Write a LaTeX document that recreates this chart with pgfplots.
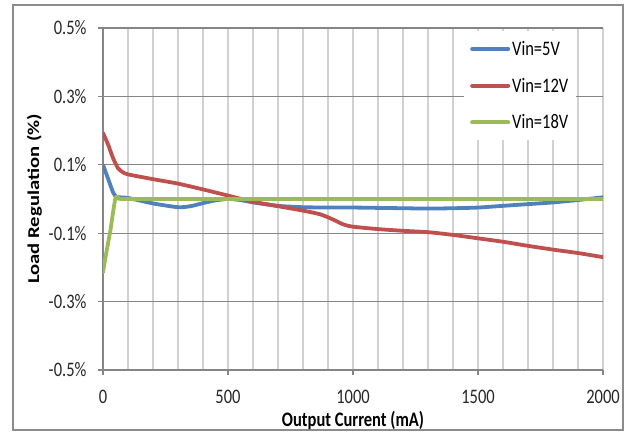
\documentclass[border=0pt]{standalone}
\usepackage{fontspec}
\setmainfont{Carlito}
\usepackage{pgfplots}
\pgfplotsset{compat=1.18}
\definecolor{c5}{HTML}{4F81BD}
\definecolor{c12}{HTML}{C0504D}
\definecolor{c18}{HTML}{9BBB59}
\newcommand{\tf}{\fontsize{16.5bp}{19bp}\selectfont}
\newcommand{\vs}[1]{\scalebox{1}[1.25]{#1}}
\begin{document}
\begin{tikzpicture}
\path[use as bounding box] (0,0) rectangle (633bp,438bp);
\draw[color=black!45, line width=1.8bp] (13bp,8bp) rectangle (623bp,433bp);
\begin{axis}[
  at={(103bp,68bp)}, anchor=south west,
  scale only axis, width=500bp, height=342bp,
  xmin=0, xmax=2000, ymin=-0.5, ymax=0.5,
  xtick={0,500,1000,1500,2000}, minor xtick={0,100,...,2000},
  xticklabels={\vs{0},\vs{500},\vs{1000},\vs{1500},\vs{2000}},
  ytick={-0.5,-0.3,-0.1,0.1,0.3,0.5},
  yticklabels={\vs{-0.5\%},\vs{-0.3\%},\vs{-0.1\%},\vs{0.1\%},\vs{0.3\%},\vs{0.5\%}},
  xmajorgrids, xminorgrids, ymajorgrids,
  major x grid style={color=black!18, line width=1.5bp},
  minor x grid style={color=black!18, line width=1.5bp},
  major y grid style={color=black!48, line width=1.2bp},
  axis x line*=bottom, axis y line*=left,
  axis line style={color=black!48, line width=1.2bp, -},
  tick align=outside, major tick length=5bp, minor tick length=0pt,
  tick style={color=black!48, line width=1.2bp},
  ticklabel style={font=\tf, text=black!85},
  xticklabel style={anchor=center, yshift=-22bp},
  yticklabel style={anchor=east, xshift=-8bp},
  xlabel={\vs{\textbf{Output Current (mA)}}},
  ylabel={\scalebox{1.25}[1]{\textbf{Load Regulation (\%)}}},
  label style={font=\tf},
  xlabel style={at={(axis description cs:0.5,-0.149)}, anchor=center},
  ylabel style={at={(axis description cs:-0.137,0.5)}, anchor=center},
  legend style={at={(rel axis cs:0.722,0.991)}, anchor=north west,
    draw=none, fill=white, font=\tf, inner xsep=6bp, inner ysep=8bp,
    row sep=17bp, cells={anchor=west}},
  legend image code/.code={\draw[#1, line width=4bp] (0bp,0bp) -- (36bp,0bp);},
  every axis plot/.append style={line width=3.8bp, line cap=round, line join=round},
]
\addplot[c5, smooth, tension=0.4] coordinates {
(0,0.1) (20,0.06) (40,0.02) (55,0.006) (100,0.003) (200,-0.013) (300,-0.024)
(350,-0.021) (400,-0.012) (450,-0.004) (500,0.0) (550,-0.003) (600,-0.01)
(700,-0.02) (800,-0.024) (900,-0.025) (1000,-0.025) (1100,-0.026) (1200,-0.027)
(1300,-0.028) (1400,-0.027) (1500,-0.025) (1600,-0.02) (1700,-0.015)
(1800,-0.01) (1900,-0.003) (2000,0.005)};
\addlegendentry{\vs{Vin=5V}}
\addplot[c12, smooth, tension=0.4] coordinates {
(0,0.193) (20,0.16) (40,0.12) (60,0.09) (80,0.078) (100,0.072) (200,0.058)
(300,0.045) (400,0.028) (500,0.01) (600,-0.008) (700,-0.021) (800,-0.034)
(870,-0.045) (920,-0.06) (960,-0.074) (1000,-0.081) (1100,-0.088) (1200,-0.093)
(1300,-0.097) (1400,-0.105) (1500,-0.115) (1600,-0.125) (1700,-0.137)
(1800,-0.148) (1900,-0.158) (2000,-0.17)};
\addlegendentry{\vs{Vin=12V}}
\addplot[c18, smooth, tension=0.3] coordinates {
(0,-0.215) (10,-0.17) (20,-0.13) (30,-0.09) (40,-0.04) (50,0.004) (60,0.006)
(80,0.0) (500,0.0) (1000,0.0) (1500,0.0) (2000,0.0)};
\addlegendentry{\vs{Vin=18V}}
\end{axis}
\end{tikzpicture}
\end{document}
